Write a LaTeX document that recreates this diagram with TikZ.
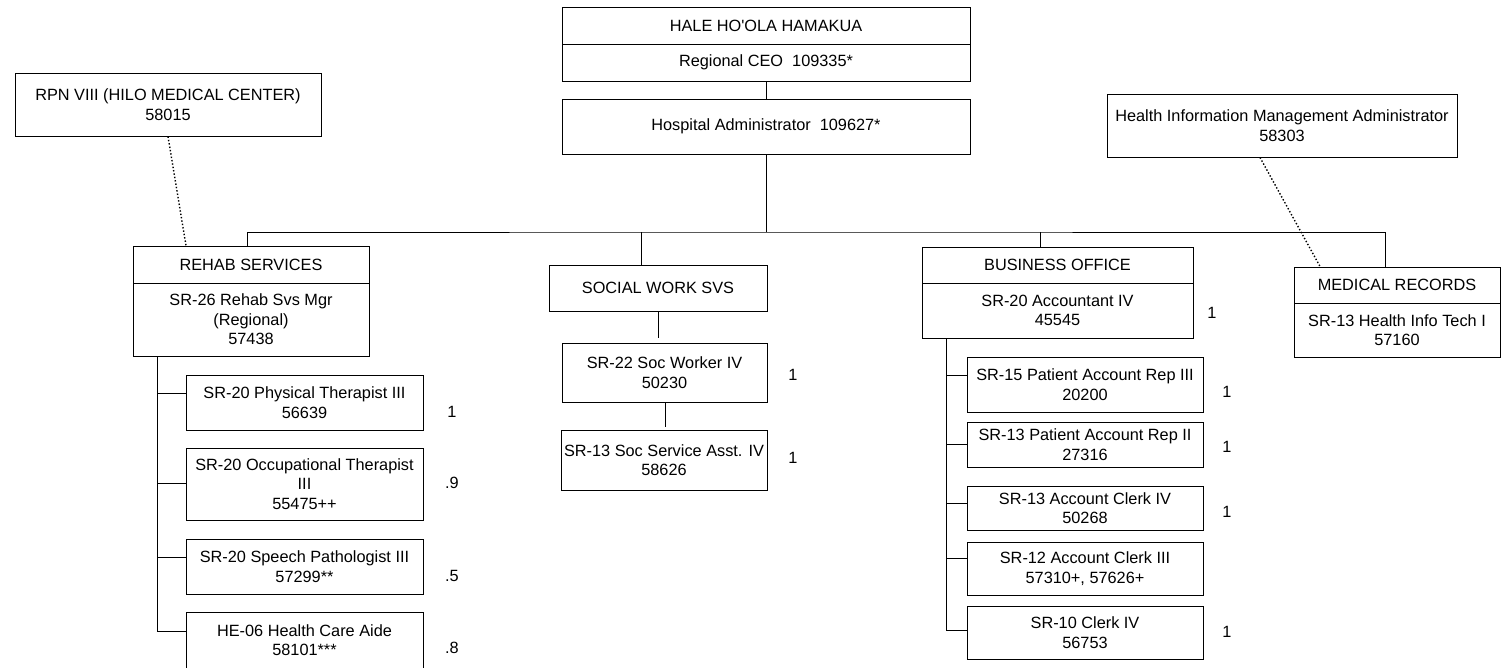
\documentclass[tikz,border=0pt]{standalone}
\usepackage{fontspec}
\setmainfont{Liberation Sans}
\usepackage{tikz}
\usetikzlibrary{positioning,calc}

\begin{document}
\begin{tikzpicture}[x=1pt,y=-1pt,line width=1pt,
    every node/.style={font=\fontsize{16.3}{19.5}\selectfont},
    box/.style={draw,rectangle,align=center,inner sep=2pt},
    fte/.style={inner sep=0pt},
    dotlink/.style={dotted,line width=1.4pt}]
    \useasboundingbox (0,0) rectangle (1506,667);

    % top of the chart
    \node[box,minimum width=408,minimum height=37] (hale) at (766,25.5) {HALE HO\textquotesingle OLA HAMAKUA};
    \node[box,minimum width=408,minimum height=37] (ceo) at (766,62.5) {Regional CEO\ \ 109335*};
    \node[box,minimum width=408,minimum height=55] (admin) at (766,126.5) {Hospital Administrator\ \ 109627*};
    \draw (ceo) -- (admin);

    \node[box,minimum width=306,minimum height=63] (rpn) at (168,104.5) {RPN VIII (HILO MEDICAL CENTER)\\58015};
    \node[box,minimum width=350,minimum height=63] (him) at (1282,125.5) {Health Information Management Administrator\\58303};

    % departments
    \node[box,minimum width=236,minimum height=37] (rehab) at (251,264.5) {REHAB SERVICES};
    \node[box,minimum width=236,minimum height=73] (rmgr) at (251,319.5) {SR-26 Rehab Svs Mgr\\(Regional)\\57438};
    \node[box,minimum width=218,minimum height=46] (soch) at (658,288) {SOCIAL WORK SVS};
    \node[box,minimum width=271,minimum height=36] (bush) at (1057.5,265) {BUSINESS OFFICE};
    \node[box,minimum width=271,minimum height=55] (acct) at (1057.5,310.5) {SR-20 Accountant IV\\45545};
    \node[box,minimum width=206,minimum height=36] (medh) at (1397,285) {MEDICAL RECORDS};
    \node[box,minimum width=206,minimum height=54] (medt) at (1397,330) {SR-13 Health Info Tech I\\57160};

    \coordinate (bus) at (766,232);
    \draw (admin.south) -- (bus);
    \draw ([xshift=-4]rehab.north) |- (bus) -| ([xshift=-12]medh.north);
    \draw ([xshift=-17]soch.north) -- ([xshift=-17]soch.north |- bus);
    \draw ([xshift=-17]bush.north) -- ([xshift=-17]bush.north |- bus);

    \draw[dotlink] (rpn.south) -- ([xshift=-65]rehab.north);
    \draw[dotlink] ([xshift=-22]him.south) -- ([xshift=-77]medh.north);

    % rehab services
    \node[box,minimum width=237,minimum height=55] (pt) at (304.5,402.5) {SR-20 Physical Therapist III\\56639};
    \node[box,minimum width=237,minimum height=72] (ot) at (304.5,484) {SR-20 Occupational Therapist\\III\\55475++};
    \node[box,minimum width=237,minimum height=55] (slp) at (304.5,566.5) {SR-20 Speech Pathologist III\\57299**};
    \node[box,minimum width=237,minimum height=56] (hca) at (304.5,640) {HE-06 Health Care Aide\\58101***};
    \coordinate (rspine) at ([xshift=25]rmgr.south west);
    \draw (rspine) |- ([yshift=9]hca.west);
    \foreach \n/\dy in {pt/9,ot/1,slp/9}
        \draw ([yshift=\dy]\n.west) -- ([yshift=\dy]\n.west -| rspine);
    \node[fte] (ptn) at (452,412) {1};
    \node[fte] (otn) at (452,483) {.9};
    \node[fte] (slpn) at (452,576) {.5};
    \node[fte] (hcan) at (452,648) {.8};

    % social work
    \node[box,minimum width=205,minimum height=59] (socw) at (664.5,372.5) {SR-22 Soc Worker IV\\50230};
    \node[box,minimum width=206,minimum height=60] (soca) at (664,460) {SR-13 Soc Service Asst. IV\\58626};
    \draw[line width=0.8pt,shorten >=5pt] (soch.south) -- (soch.south |- socw.north);
    \draw[line width=0.8pt,shorten >=3pt] ([xshift=1]socw.south) -- ([xshift=1]socw.south |- soca.north);
    \node[fte] (socwn) at (793,375) {1};
    \node[fte] (socan) at (793,458) {1};

    % business office
    \node[box,minimum width=236,minimum height=55] (par3) at (1085,384.5) {SR-15 Patient Account Rep III\\20200};
    \node[box,minimum width=236,minimum height=45] (par2) at (1085,444.5) {SR-13 Patient Account Rep II\\27316};
    \node[box,minimum width=236,minimum height=44] (ac4) at (1085,508) {SR-13 Account Clerk IV\\50268};
    \node[box,minimum width=236,minimum height=53] (ac3) at (1085,568.5) {SR-12 Account Clerk III\\57310+, 57626+};
    \node[box,minimum width=236,minimum height=53] (clk) at (1085,632.5) {SR-10 Clerk IV\\56753};
    \coordinate (bspine) at ([xshift=25]acct.south west);
    \draw (bspine) |- ([yshift=2.5]clk.west);
    \foreach \n/\dy in {par3/9.5,par2/0,ac4/5,ac3/10}
        \draw ([yshift=\dy]\n.west) -- ([yshift=\dy]\n.west -| bspine);
    \node[fte] (acctn) at (1212,313) {1};
    \node[fte] (par3n) at (1227,392) {1};
    \node[fte] (par2n) at (1227,447) {1};
    \node[fte] (ac4n) at (1227,512) {1};
    \node[fte] (clkn) at (1227,632) {1};
\end{tikzpicture}
\end{document}
